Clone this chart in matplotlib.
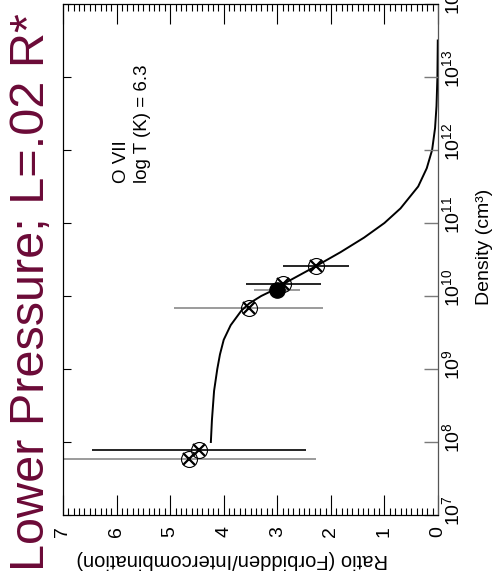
import numpy as np
import matplotlib
matplotlib.use("Agg")
import matplotlib.pyplot as plt
from matplotlib import transforms

plt.rcParams['font.family'] = ['Liberation Sans', 'DejaVu Sans']
plt.rcParams['mathtext.fontset'] = 'custom'
plt.rcParams['mathtext.rm'] = 'Liberation Sans'
plt.rcParams['mathtext.it'] = 'Liberation Sans:italic'

# model curve: log10 density vs forbidden/intercombination ratio
curve_logn = [8.0, 8.3, 8.7, 9.0, 9.2, 9.4, 9.6, 9.8, 9.9, 10.0, 10.1, 10.2,
              10.4, 10.6, 10.8, 11.0, 11.2, 11.5, 11.75, 12.0, 12.3, 12.6, 13.0, 13.5]
curve_ratio = [4.24, 4.22, 4.18, 4.12, 4.07, 4.0, 3.87, 3.67, 3.52, 3.30, 3.02, 2.80,
               2.30, 1.82, 1.38, 1.0, 0.70, 0.37, 0.21, 0.11, 0.055, 0.028, 0.011, 0.004]

# measured points
pt_logn = [7.77, 7.89, 9.84, 10.16, 10.08, 10.41]
pt_ratio = [4.65, 4.46, 3.53, 2.89, 3.01, 2.28]
pt_err = [2.37, 2.0, 1.39, 0.70, 0.43, 0.62]
pt_filled = [False, False, False, False, True, False]
pt_errcolor = ['#8a8a8a', 'black', '#8a8a8a', 'black', '#8a8a8a', 'black']

ratio_ticks = [0, 1, 2, 3, 4, 5, 6, 7]
decades = [7, 8, 9, 10, 11, 12, 13, 14]

W, H = 498, 582
fig = plt.figure(figsize=(W / 100, H / 100), dpi=100)
ax = fig.add_axes([63 / W, 67 / H, 375 / W, 511 / H])

# plot is drawn turned a quarter turn: ratio runs right-to-left, density upward
ax.set_xlim(7, 0)
ax.set_yscale('log')
ax.set_ylim(1e7, 1e14)

ax.plot(curve_ratio, 10 ** np.array(curve_logn), color='black', lw=1.4, zorder=3)

for r, lg, e, f, c in zip(pt_ratio, pt_logn, pt_err, pt_filled, pt_errcolor):
    d = 10 ** lg
    ax.errorbar([r], [d], xerr=[e], fmt='none', ecolor=c, elinewidth=1.2, zorder=2)
    if f:
        ax.plot([r], [d], 'o', ms=11, mfc='black', mec='black', zorder=5)
    else:
        ax.plot([r], [d], 'o', ms=11.5, mfc='none', mec='black', mew=0.8, zorder=4)
        ax.plot([r], [d], 'x', ms=8, mec='black', mew=1.6, zorder=4)

ax.set_xticks(ratio_ticks)
ax.set_xticks(np.arange(0, 7.01, 0.1), minor=True)
ax.set_xticklabels([str(t) for t in ratio_ticks])
ax.tick_params(axis='x', which='major', direction='in', length=14.5, width=0.8,
               top=True, bottom=True, labelsize=14, labelrotation=90, pad=8)
ax.tick_params(axis='x', which='minor', direction='in', length=5, width=0.8,
               top=True, bottom=True)

ax.set_yticks([10.0 ** k for k in decades])
ax.yaxis.set_minor_locator(matplotlib.ticker.NullLocator())
ax.tick_params(axis='y', which='major', direction='in', length=6, width=0.8,
               left=True, right=False, labelleft=False)

ax2 = ax.twinx()
ax2.set_yscale('log')
ax2.set_ylim(1e7, 1e14)
ax2.set_yticks([10.0 ** k for k in decades])
ax2.yaxis.set_minor_locator(matplotlib.ticker.NullLocator())
ax2.tick_params(axis='y', which='major', direction='in', length=10, width=1.0,
                color='#7a7a7a', right=True, labelright=False)
ax2.spines['right'].set_color('#555555')

# density tick labels, rotated like the rest of the plot
off = transforms.ScaledTranslation(3 / 100, -11 / 100, fig.dpi_scale_trans)
trans = transforms.blended_transform_factory(ax.transAxes, ax.transData) + off
for k in decades:
    ax.text(1.0, 10.0 ** k, r'$\mathregular{10^{%d}}$' % k, transform=trans,
            rotation=90, rotation_mode='anchor', ha='left', va='top', fontsize=14)

ax.text(5.9, 10 ** 11.55, 'O VII', rotation=90, ha='center', va='bottom', fontsize=13.5)
ax.text(5.51, 10 ** 11.55, 'log T (K) = 6.3', rotation=90, ha='center', va='bottom',
        fontsize=13.5)

fig.text(484 / W, 1 - 247 / H, 'Density (cm³)', rotation=90, ha='center', va='center',
         fontsize=14)
fig.text(232 / W, 1 - 560 / H, 'Ratio (Forbidden/Intercombination)', rotation=180,
         ha='center', va='center', fontsize=14.5)
fig.text(32 / W, 1 - 292 / H, 'Lower Pressure; L=.02 R*', rotation=90, ha='center',
         va='center', fontsize=35, color='#6b0a37')

fig.savefig('out.png', dpi=100)
